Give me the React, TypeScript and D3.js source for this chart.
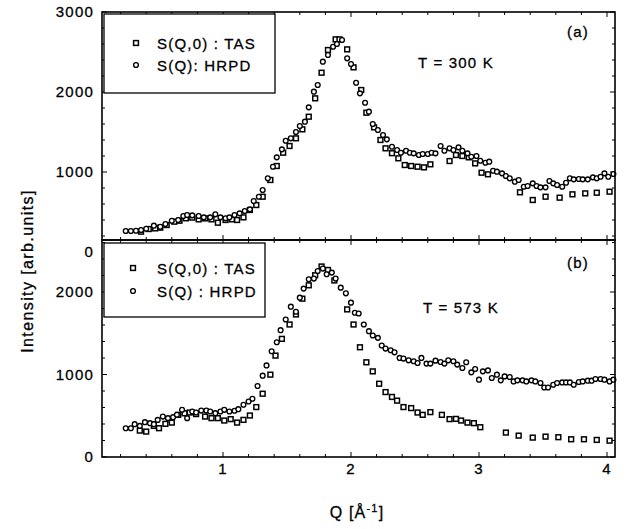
import React from "react";
import * as d3 from "d3";

type P = [number, number];

const tasA: P[] = [
  [0.36, 254], [0.42, 287], [0.47, 295], [0.51, 304], [0.56, 337], [0.62, 379], [0.66, 391], [0.71, 421],
  [0.76, 430], [0.81, 408], [0.86, 420], [0.91, 408], [0.96, 366], [1.02, 400], [1.07, 408], [1.11, 400],
  [1.16, 433], [1.21, 525], [1.26, 587], [1.31, 691], [1.37, 900], [1.42, 1075], [1.47, 1241], [1.52, 1325],
  [1.57, 1421], [1.62, 1533], [1.67, 1691], [1.72, 1921], [1.77, 2241], [1.82, 2525], [1.88, 2658], [1.91, 2658],
  [1.97, 2533], [2.02, 2308], [2.08, 2025], [2.12, 1741], [2.18, 1558], [2.23, 1400], [2.27, 1296], [2.32, 1235],
  [2.37, 1171], [2.42, 1087], [2.47, 1075], [2.52, 1066], [2.57, 1058], [2.62, 1096], [2.77, 1137], [2.82, 1212],
  [2.87, 1200], [2.92, 1183], [2.97, 1108], [3.02, 991], [3.07, 971], [3.32, 746], [3.42, 650], [3.52, 691],
  [3.63, 679], [3.73, 721], [3.83, 733], [3.92, 741], [4.02, 754],
];

const hrpdA: P[] = [
  [0.24, 262], [0.28, 262], [0.32, 266], [0.36, 275], [0.40, 291], [0.46, 329], [0.51, 316], [0.55, 350],
  [0.60, 391], [0.65, 400], [0.69, 450], [0.72, 462], [0.76, 458], [0.81, 450], [0.85, 433], [0.90, 433],
  [0.94, 471], [0.98, 433], [1.02, 421], [1.05, 433], [1.09, 462], [1.13, 483], [1.17, 512], [1.21, 533],
  [1.24, 637], [1.28, 691], [1.31, 775], [1.35, 921], [1.39, 1066], [1.42, 1183], [1.46, 1283], [1.49, 1391],
  [1.53, 1421], [1.57, 1500], [1.60, 1575], [1.64, 1629], [1.67, 1808], [1.71, 2004], [1.74, 2088], [1.78, 2379],
  [1.82, 2463], [1.86, 2566], [1.89, 2600], [1.93, 2650], [1.97, 2421], [2.00, 2350], [2.04, 2116], [2.07, 1983],
  [2.11, 1866], [2.14, 1754], [2.17, 1600], [2.21, 1525], [2.25, 1462], [2.28, 1408], [2.32, 1316], [2.36, 1275],
  [2.39, 1241], [2.43, 1266], [2.46, 1241], [2.49, 1233], [2.53, 1212], [2.56, 1225], [2.60, 1225], [2.63, 1241],
  [2.66, 1233], [2.70, 1325], [2.73, 1266], [2.77, 1296], [2.80, 1275], [2.84, 1308], [2.87, 1266], [2.91, 1233],
  [2.94, 1191], [2.98, 1200], [3.01, 1141], [3.05, 1116], [3.08, 1129], [3.11, 1016], [3.14, 1004], [3.18, 983],
  [3.21, 950], [3.24, 921], [3.28, 879], [3.31, 900], [3.35, 816], [3.38, 825], [3.42, 858], [3.45, 825],
  [3.48, 808], [3.52, 808], [3.55, 887], [3.58, 858], [3.61, 837], [3.65, 816], [3.68, 866], [3.71, 921],
  [3.74, 908], [3.78, 912], [3.81, 908], [3.85, 908], [3.89, 933], [3.92, 921], [3.95, 941], [3.98, 983],
  [4.01, 941], [4.05, 975],
];

const tasB: P[] = [
  [0.35, 320], [0.40, 308], [0.46, 377], [0.50, 349], [0.55, 402], [0.60, 417], [0.65, 511], [0.70, 530],
  [0.74, 539], [0.79, 520], [0.86, 490], [0.91, 471], [0.96, 471], [1.01, 442], [1.06, 459], [1.11, 417],
  [1.16, 450], [1.21, 503], [1.26, 605], [1.31, 767], [1.37, 998], [1.41, 1229], [1.46, 1432], [1.52, 1606],
  [1.57, 1728], [1.62, 1919], [1.67, 2081], [1.72, 2203], [1.77, 2309], [1.82, 2267], [1.87, 2140], [1.97, 1789],
  [2.02, 1606], [2.07, 1330], [2.12, 1148], [2.17, 1038], [2.22, 888], [2.27, 787], [2.32, 728], [2.36, 683],
  [2.41, 605], [2.47, 593], [2.52, 539], [2.56, 511], [2.62, 544], [2.71, 511], [2.77, 459], [2.82, 462],
  [2.86, 442], [2.91, 417], [2.96, 410], [3.01, 361], [3.21, 296], [3.31, 259], [3.42, 235], [3.52, 247],
  [3.62, 240], [3.72, 215], [3.82, 215], [3.92, 207], [4.02, 198],
];

const hrpdB: P[] = [
  [0.24, 349], [0.28, 349], [0.31, 398], [0.35, 377], [0.39, 422], [0.43, 410], [0.46, 398], [0.49, 450],
  [0.53, 490], [0.57, 471], [0.61, 483], [0.64, 511], [0.68, 572], [0.72, 471], [0.76, 551], [0.79, 539],
  [0.83, 563], [0.87, 563], [0.90, 551], [0.94, 531], [0.98, 551], [1.01, 572], [1.05, 551], [1.09, 560],
  [1.12, 580], [1.16, 633], [1.20, 673], [1.23, 706], [1.27, 860], [1.31, 986], [1.34, 1110], [1.38, 1282],
  [1.42, 1391], [1.45, 1537], [1.49, 1667], [1.53, 1822], [1.57, 1760], [1.60, 1931], [1.63, 2041], [1.67, 2154],
  [1.71, 2163], [1.74, 2255], [1.78, 2284], [1.81, 2215], [1.85, 2235], [1.88, 2163], [1.92, 2053], [1.96, 1984],
  [2.00, 1871], [2.03, 1749], [2.06, 1740], [2.10, 1606], [2.14, 1525], [2.17, 1473], [2.21, 1444], [2.24, 1351],
  [2.27, 1314], [2.31, 1294], [2.34, 1269], [2.38, 1201], [2.41, 1193], [2.45, 1172], [2.49, 1160], [2.52, 1140],
  [2.55, 1201], [2.59, 1132], [2.62, 1132], [2.66, 1168], [2.70, 1152], [2.73, 1132], [2.76, 1172], [2.80, 1160],
  [2.83, 1120], [2.87, 1079], [2.90, 1148], [2.94, 1026], [2.97, 1067], [3.00, 937], [3.03, 1038], [3.07, 1050],
  [3.10, 958], [3.14, 998], [3.17, 929], [3.20, 977], [3.24, 970], [3.27, 916], [3.30, 929], [3.34, 929],
  [3.37, 916], [3.41, 929], [3.44, 916], [3.48, 897], [3.51, 843], [3.54, 843], [3.58, 876], [3.61, 897],
  [3.65, 904], [3.68, 904], [3.71, 904], [3.74, 876], [3.78, 909], [3.81, 916], [3.85, 925], [3.88, 925],
  [3.91, 946], [3.95, 946], [3.98, 937], [4.02, 916], [4.05, 937],
];

const qTicks = [1, 2, 3, 4];
const aTicks = [0, 1000, 2000, 3000];
const bTicks = [0, 1000, 2000];
const legendLabelsA = ["S(Q,0) : TAS", "S(Q): HRPD"];
const legendLabelsB = ["S(Q,0) : TAS", "S(Q) : HRPD"];

const FONT = "'Liberation Sans', Arial, Helvetica, sans-serif";
const LS = 1.2;
const TXT = { fontFamily: FONT, fontSize: 15, letterSpacing: LS, stroke: "#000", strokeWidth: 0.3 };

const L = 102, R = 615;
const aTop = 12, mid = 240, bBot = 457;

const x = d3.scaleLinear().domain([1, 4]).range([223, 607]);
const yA = d3.scaleLinear().domain([0, 3000]).range([252, 12]);
const yB = d3.scaleLinear().domain([0, 2000]).range([457, 292]);

const Square = ({ cx, cy }: { cx: number; cy: number }) => (
  <rect x={cx - 2.4} y={cy - 2.4} width={4.8} height={4.8} fill="white" stroke="#000" strokeWidth={1.5} />
);
const Circle = ({ cx, cy }: { cx: number; cy: number }) => (
  <circle cx={cx} cy={cy} r={2.4} fill="white" stroke="#000" strokeWidth={1.35} />
);

function Panel({ y, top, bottom, ticks, tas, hrpd, minorMax }: any) {
  const xMinor = d3.range(2, 41).map((d) => d / 10).filter((d) => Math.round(d * 10) % 2 === 0);
  const yMinor = d3.range(0, minorMax + 1, 200).filter((v) => y(v) <= bottom && y(v) >= top);
  return (
    <g>
      {xMinor.map((q) => {
        const major = Math.abs(q - Math.round(q)) < 1e-6;
        const len = major ? 5 : 3;
        return (
          <g key={"xt" + q}>
            <line x1={x(q)} x2={x(q)} y1={bottom} y2={bottom - len} stroke="#000" strokeWidth={1} />
            <line x1={x(q)} x2={x(q)} y1={top} y2={top + len} stroke="#000" strokeWidth={1} />
          </g>
        );
      })}
      {yMinor.map((v) => {
        const major = v % 1000 === 0;
        const len = major ? 5 : 3;
        return (
          <g key={"yt" + v}>
            <line x1={L} x2={L + len} y1={y(v)} y2={y(v)} stroke="#000" strokeWidth={1} />
            <line x1={R} x2={R - len} y1={y(v)} y2={y(v)} stroke="#000" strokeWidth={1} />
          </g>
        );
      })}
      {ticks.map((v: number) => (
        <text key={"yl" + v} x={94} y={y(v) + 5} textAnchor="end" {...TXT}>
          {v}
        </text>
      ))}
      {tas.map((d: P, i: number) => (
        <Square key={"s" + i} cx={x(d[0])} cy={y(d[1])} />
      ))}
      {hrpd.map((d: P, i: number) => (
        <Circle key={"c" + i} cx={x(d[0])} cy={y(d[1])} />
      ))}
    </g>
  );
}

function Legend({ x0, y0, w, h, labels, mx, r1, r2 }: any) {
  return (
    <g>
      <rect x={x0} y={y0} width={w} height={h} fill="white" stroke="#000" strokeWidth={1.3} />
      <Square cx={mx} cy={r1} />
      <Circle cx={mx} cy={r2} />
      <text x={157} y={r1 + 5.5} {...TXT}>{labels[0]}</text>
      <text x={157} y={r2 + 5.5} {...TXT}>{labels[1]}</text>
    </g>
  );
}

export default function App() {
  return (
    <svg width={625} height={529} style={{ position: "absolute", left: 0, top: 0, background: "white" }}>
      <rect x={0} y={0} width={625} height={529} fill="white" />
      <Panel y={yA} top={aTop} bottom={mid} ticks={aTicks} tas={tasA} hrpd={hrpdA} minorMax={3000} />
      <Panel y={yB} top={mid} bottom={bBot} ticks={bTicks} tas={tasB} hrpd={hrpdB} minorMax={2600} />
      <rect x={L} y={aTop} width={R - L} height={mid - aTop} fill="none" stroke="#000" strokeWidth={1.6} />
      <rect x={L} y={mid} width={R - L} height={bBot - mid} fill="none" stroke="#000" strokeWidth={1.6} />
      <Legend x0={104} y0={14} w={171} h={79} labels={legendLabelsA} mx={136} r1={43} r2={65} />
      <Legend x0={104} y0={243} w={161} h={74} labels={legendLabelsB} mx={133} r1={268} r2={291} />
      <text x={578} y={37} textAnchor="middle" {...TXT}>(a)</text>
      <text x={578} y={268} textAnchor="middle" {...TXT}>(b)</text>
      <text x={418} y={68} {...TXT}>T = 300 K</text>
      <text x={423} y={313} {...TXT}>T = 573 K</text>
      {qTicks.map((q) => (
        <text key={"xl" + q} x={x(q)} y={474} textAnchor="middle" {...TXT}>
          {q}
        </text>
      ))}
      <text transform="translate(33,271) rotate(-90)" textAnchor="middle" {...TXT} fontSize={16} letterSpacing={1.4}>
        Intensity [arb.units]
      </text>
      <text x={357} y={518} textAnchor="middle" {...TXT} fontSize={16}>
        Q [Å<tspan fontSize={11} dy={-6}>-1</tspan><tspan dy={6}>]</tspan>
      </text>
    </svg>
  );
}
